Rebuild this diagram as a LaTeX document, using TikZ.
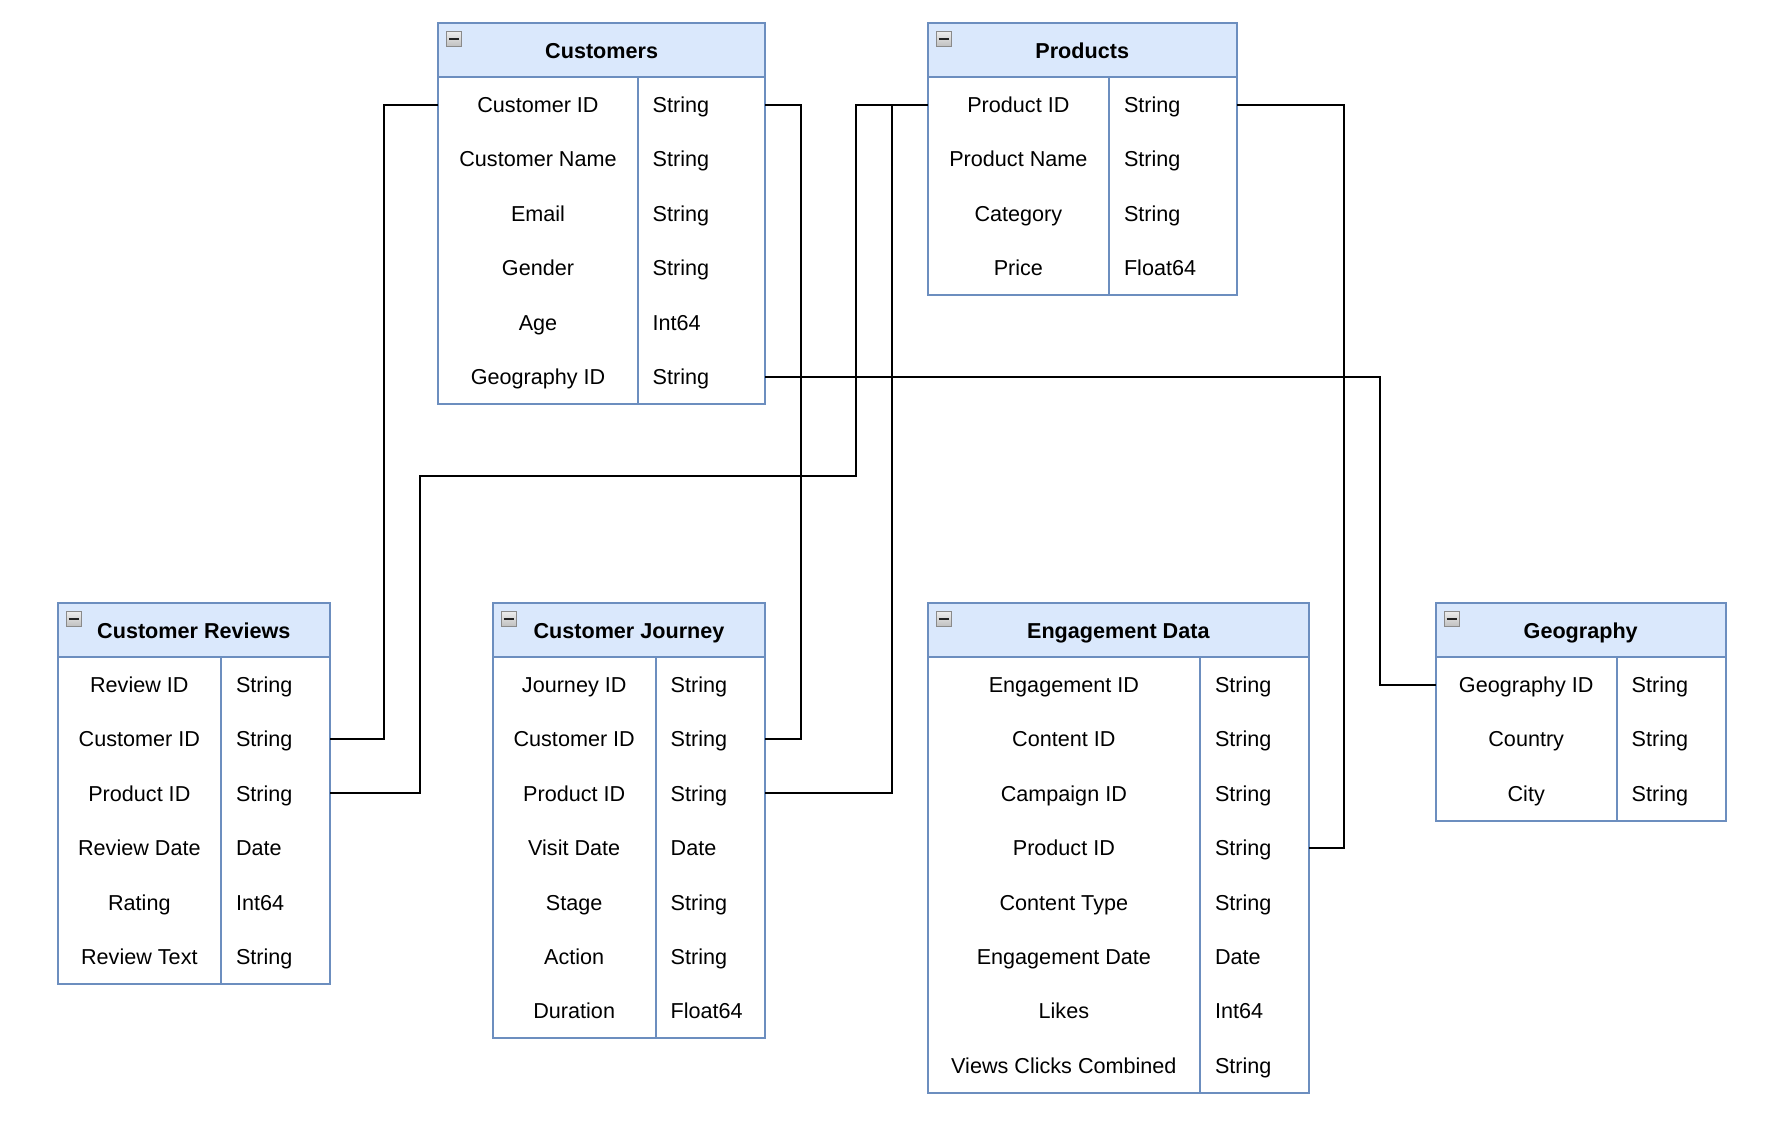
\documentclass[tikz,border=0pt]{standalone}
\usepackage{fontspec}
\setmainfont{Liberation Sans}
\definecolor{hdrblue}{HTML}{DAE8FC}
\definecolor{bordc}{HTML}{6C8EBF}
\definecolor{icobord}{HTML}{8A8A8A}
\definecolor{icominus}{HTML}{222222}
\tikzset{
  hdrcell/.style={rectangle, draw=bordc, fill=hdrblue, line width=2pt, minimum height=54, inner sep=0, outer sep=0,
    font=\fontsize{21.6}{26}\selectfont\bfseries, text height=15.5, text depth=0},
  namecell/.style={rectangle, minimum height=54.45, inner sep=0, outer sep=0,
    font=\fontsize{21.6}{26}\selectfont, text height=15.5, text depth=0},
  typecell/.style={rectangle, minimum height=54.45, inner xsep=15, inner ysep=0, outer sep=0, align=left,
    font=\fontsize{21.6}{26}\selectfont, text height=15.5, text depth=0},
  tbl/.style={draw=bordc, line width=2pt},
  conn/.style={draw=black, line width=2pt},
  iconbox/.style={rectangle, draw=icobord, line width=1.2pt, top color=gray!15, bottom color=gray!50,
    minimum size=15, inner sep=0, outer sep=0,
    path picture={\draw[icominus, line width=2pt] ([xshift=-5pt]path picture bounding box.center) -- ([xshift=5pt]path picture bounding box.center);}}
}
\newcommand\ertable[7]{%
  \pgfmathsetmacro\wl{#3-#2}%
  \pgfmathsetmacro\tw{#4-#3-30}%
  \pgfmathsetmacro\wh{#4-#2}%
  \node[hdrcell, anchor=north west, minimum width=\wh] (#1-h) at (#2,#5) {#6};
  \node[iconbox, anchor=north west] (#1-i) at ({#2+8.4},{#5+8.4}) {};
  \foreach [count=\i] \nm/\ty in {#7} {
    \node[namecell, minimum width=\wl] (#1-\i-n) at ({(#2+#3)/2},{#5+54+54.45*(\i-0.5)}) {\nm};
    \node[typecell, text width=\tw] (#1-\i-t) at ({(#3+#4)/2},{#5+54+54.45*(\i-0.5)}) {\ty};
    \xdef\lastrow{\i}
  }
  \draw[tbl] (#1-1-n.north west) rectangle (#1-\lastrow-t.south east);
  \draw[tbl] (#1-1-n.north east) -- (#1-\lastrow-n.south east);
}
\begin{document}
\begin{tikzpicture}[x=1pt,y=-1pt]
\useasboundingbox (0,0) rectangle (1777,1122);
\fill[white] (0,0) rectangle (1777,1122);

\ertable{cu}{438.3}{637.7}{765}{23.3}{Customers}{Customer ID/String, Customer Name/String, Email/String, Gender/String, Age/Int64, Geography ID/String}
\ertable{pr}{927.7}{1109}{1236.7}{23.3}{Products}{Product ID/String, Product Name/String, Category/String, Price/Float64}
\ertable{rv}{57.7}{221}{330}{603.3}{Customer Reviews}{Review ID/String, Customer ID/String, Product ID/String, Review Date/Date, Rating/Int64, Review Text/String}
\ertable{cj}{492.7}{655.7}{765.3}{603.3}{Customer Journey}{Journey ID/String, Customer ID/String, Product ID/String, Visit Date/Date, Stage/String, Action/String, Duration/Float64}
\ertable{ed}{927.7}{1200}{1309}{603.3}{Engagement Data}{Engagement ID/String, Content ID/String, Campaign ID/String, Product ID/String, Content Type/String, Engagement Date/Date, Likes/Int64, Views Clicks Combined/String}
\ertable{ge}{1435.7}{1616.7}{1725.7}{603.3}{Geography}{Geography ID/String, Country/String, City/String}

\coordinate (bend3) at (420.3,476);
\draw[conn] (cu-1-n.west) -- ++(-54,0) |- (rv-2-t.east);
\draw[conn] (cu-1-t.east) -- ++(36,0) |- (cj-2-t.east);
\draw[conn] (pr-1-n.west) -- ++(-72,0) |- (bend3) |- (rv-3-t.east);
\draw[conn] (pr-1-n.west) -- ++(-36,0) |- (cj-3-t.east);
\draw[conn] (pr-1-t.east) -- ++(107.4,0) |- (ed-4-t.east);
\draw[conn] (cu-6-t.east) -- ++(615.4,0) |- (ge-1-n.west);
\end{tikzpicture}
\end{document}
